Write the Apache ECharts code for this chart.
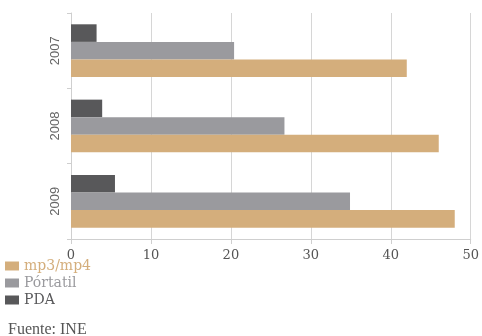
<!DOCTYPE html>
<html>
<head>
<meta charset="utf-8">
<script src="https://cdn.jsdelivr.net/npm/echarts@6/dist/echarts.min.js"></script>
<style>
  html, body { margin: 0; padding: 0; background: #fff; }
  #chart { width: 482px; height: 336px; }
</style>
</head>
<body>
<div id="chart"></div>
<script>
  var years = ['2007', '2008', '2009']
  var pda = [3.2, 3.9, 5.5]
  var portatil = [20.4, 26.7, 34.9]
  var mp3 = [42.0, 46.0, 48.0]
  var xTicks = [0, 10, 20, 30, 40, 50]

  var colors = {
    mp3: '#d4ae7c',
    portatil: '#9a9a9e',
    pda: '#58585a'
  }

  var chart = echarts.init(document.getElementById('chart'))
  chart.setOption({
    animation: false,
    grid: {
      left: 71,
      right: 11,
      top: 13,
      bottom: 97
    },
    legend: {
      orient: 'vertical',
      left: 5,
      top: 259,
      padding: 0,
      itemWidth: 14,
      itemHeight: 9,
      itemGap: 3,
      icon: 'rect',
      data: [
        { name: 'mp3/mp4', textStyle: { color: colors.mp3 } },
        { name: 'Pórtatil', textStyle: { color: colors.portatil } },
        { name: 'PDA', textStyle: { color: colors.pda } }
      ],
      textStyle: {
        fontFamily: 'DejaVu Serif',
        fontSize: 14,
        lineHeight: 14
      }
    },
    graphic: [{
      type: 'text',
      left: 8,
      top: 322,
      style: {
        text: 'Fuente: INE',
        fontFamily: 'Liberation Serif',
        fontSize: 16,
        fill: '#555'
      }
    }],
    xAxis: {
      type: 'value',
      min: xTicks[0],
      max: xTicks[xTicks.length - 1],
      interval: 10,
      axisLine: { show: true, lineStyle: { color: '#cfcfcf' } },
      axisTick: { show: true, length: 5, lineStyle: { color: '#cfcfcf' } },
      splitLine: { show: true, lineStyle: { color: '#d6d6d6' } },
      axisLabel: {
        color: '#555',
        fontFamily: 'DejaVu Serif',
        fontSize: 13,
        margin: 10
      }
    },
    yAxis: {
      type: 'category',
      data: years,
      inverse: true,
      axisLine: { show: true, lineStyle: { color: '#cfcfcf' } },
      axisTick: { show: true, length: 4, lineStyle: { color: '#cfcfcf' } },
      axisLabel: {
        rotate: 90,
        color: '#666',
        fontFamily: 'Liberation Sans',
        fontSize: 13,
        margin: 9
      }
    },
    series: [
      {
        name: 'PDA',
        type: 'bar',
        barGap: 0,
        barCategoryGap: '30%',
        itemStyle: { color: colors.pda },
        data: pda
      },
      {
        name: 'Pórtatil',
        type: 'bar',
        barGap: 0,
        barCategoryGap: '30%',
        itemStyle: { color: colors.portatil },
        data: portatil
      },
      {
        name: 'mp3/mp4',
        type: 'bar',
        barGap: 0,
        barCategoryGap: '30%',
        itemStyle: { color: colors.mp3 },
        data: mp3
      }
    ]
  })
</script>
</body>
</html>
